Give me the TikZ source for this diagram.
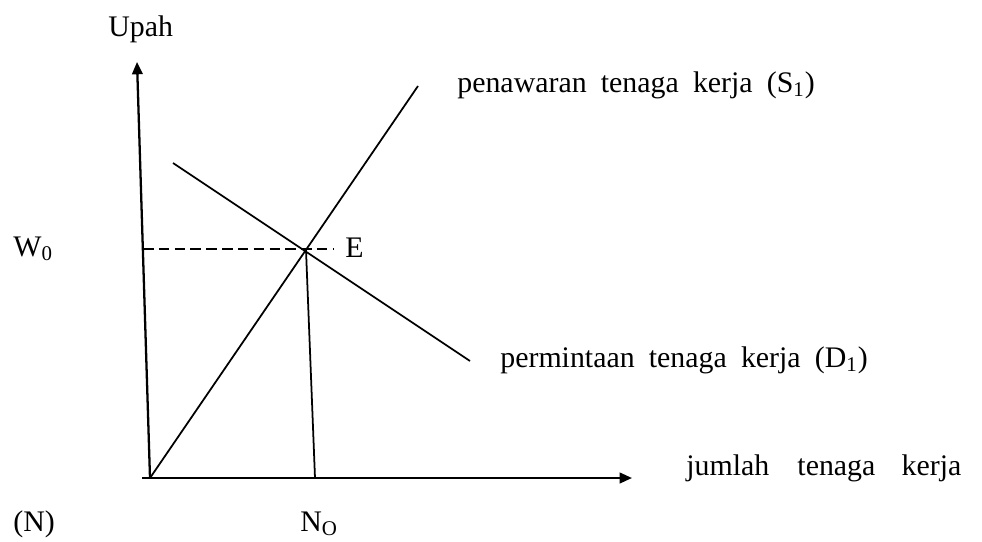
\documentclass[tikz,border=0pt]{standalone}
\usepackage{fontspec}
\setmainfont[WordSpace=1.9]{Liberation Serif}
\usetikzlibrary{arrows.meta}
\begin{document}
\begin{tikzpicture}[
x=0.02cm, y=-0.02cm,
every node/.style={font=\fontsize{17}{20}\selectfont, inner sep=0pt},
axis/.style={line width=1.3pt, -{Triangle[length=7pt,width=6pt]}},
curve/.style={line width=1pt},
lbl/.style={anchor=base west}
]
\useasboundingbox (0,0) rectangle (982,541);
% points
\coordinate (O) at (150,478);
\coordinate (Ytop) at (137,62);
\coordinate (Xstart) at (142,478);
\coordinate (Xend) at (632,478);
\coordinate (Stop) at (418,86);
\coordinate (Dstart) at (173,163);
\coordinate (Dend) at (470,361);
\coordinate (E) at (306,250);
\coordinate (Wleft) at (143,249);
\coordinate (Wright) at (333,249);
\coordinate (Nfoot) at (315,478);
% axes
\draw[axis] (O) -- (Ytop);
\draw[axis] (Xstart) -- (Xend);
% supply and demand
\draw[curve] (O) -- (Stop);
\draw[curve] (Dstart) -- (Dend);
\draw[curve, dashed, dash pattern=on 6pt off 3pt] (Wleft) -- (Wright);
\draw[curve] (E) -- (Nfoot);
% labels
\node[lbl] (upah) at (108,36) {Upah};
\node[lbl] (supply) at (457,92) {penawaran tenaga kerja (S\textsubscript{1})};
\node[lbl] (w0) at (13,256) {W\textsubscript{0}};
\node[lbl] (elabel) at (345,257) {E};
\node[lbl] (demand) at (500,367) {permintaan tenaga kerja (D\textsubscript{1})};
\node[lbl] (jumlah) at (686,475) {jumlah\hspace{16pt}tenaga\hspace{15pt}kerja};
\node[lbl] (nlabel) at (13,531) {(N)};
\node[lbl] (n0) at (300,531) {N\textsubscript{O}};
\end{tikzpicture}
\end{document}
